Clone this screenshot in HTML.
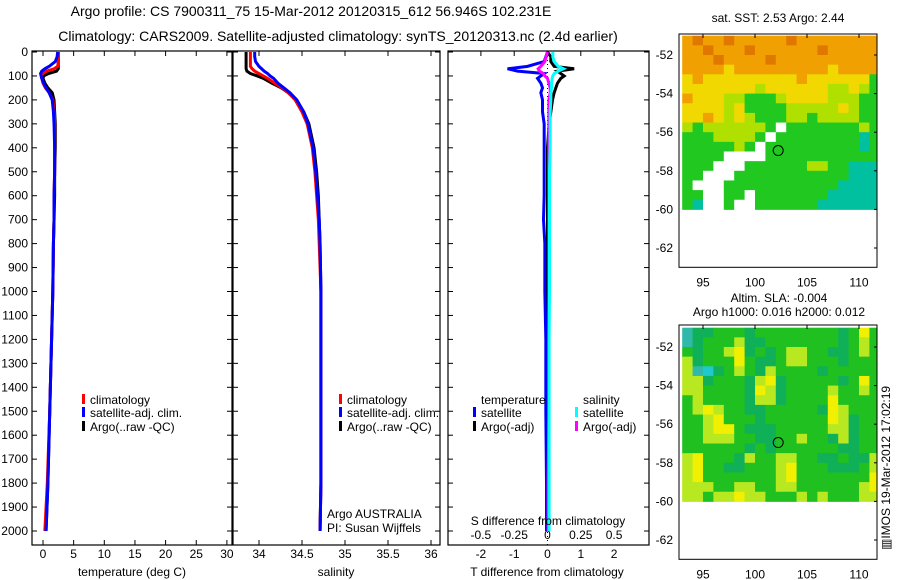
<!DOCTYPE html>
<html><head><meta charset="utf-8">
<style>
body{margin:0;background:#fff;}
svg{display:block;font-family:"Liberation Sans",Arial,sans-serif;}
text{font-size:12px;fill:#000;}
.big{font-size:14px;}
</style></head>
<body>
<svg id="fig" width="900" height="580" viewBox="0 0 900 580" xmlns="http://www.w3.org/2000/svg">
<text class="big" x="311" y="16" text-anchor="middle">Argo profile: CS 7900311_75 15-Mar-2012 20120315_612 56.946S 102.231E</text>
<text class="big" x="338" y="41" text-anchor="middle">Climatology: CARS2009. Satellite-adjusted climatology: synTS_20120313.nc (2.4d earlier)</text>
<g id="g"></g>
</svg>
<script>
// ---- data ----
const depths   = [0,20,40,60,70,80,90,100,110,130,150,170,200,250,300,400,500,600,700,800,1000,1200,1500,1800,2000];
const tempClim = [2.5,2.5,2.5,2.4,1.8,0.6,0.0,-0.3,-0.2,0.0,0.4,1.0,1.6,1.8,1.9,1.9,1.9,1.8,1.8,1.7,1.6,1.4,1.1,0.7,0.3];
const tempSat  = [2.4,2.3,2.0,1.0,0.3,-0.2,-0.4,-0.3,-0.2,0.1,0.5,1.0,1.5,1.7,1.8,1.9,1.9,1.8,1.8,1.7,1.6,1.4,1.1,0.8,0.5];
const tempArgo = [2.5,2.5,2.5,2.5,2.5,2.2,0.9,0.1,0.0,0.3,0.8,1.5,1.8,1.9,2.0,2.0,1.9,1.9,1.8,1.7,1.6,1.4,1.1,0.8,0.5];
const salClim  = [33.9,33.9,33.9,33.9,33.92,33.95,34.0,34.05,34.1,34.18,34.27,34.34,34.42,34.5,34.56,34.62,34.65,34.67,34.69,34.7,34.72,34.72,34.72,34.72,34.71];
const salSat   = [33.95,33.95,33.96,34.0,34.03,34.06,34.1,34.13,34.17,34.22,34.29,34.36,34.44,34.52,34.57,34.63,34.66,34.68,34.7,34.71,34.72,34.72,34.72,34.72,34.71];
const salArgo  = [33.85,33.85,33.85,33.85,33.85,33.86,33.9,33.98,34.05,34.15,34.26,34.34,34.43,34.52,34.58,34.64,34.67,34.69,34.7,34.71,34.72,34.72,34.72,34.72,34.71];
const dT_sat   = [0.0,-0.05,-0.1,-0.6,-1.2,-0.9,-0.1,-0.2,-0.3,-0.2,-0.15,-0.2,-0.15,-0.15,-0.1,-0.1,-0.1,-0.1,-0.12,-0.08,-0.08,-0.05,-0.05,-0.03,-0.03];
const dT_argo  = [0.0,0.1,0.1,0.2,0.8,0.3,0.4,0.5,0.4,0.3,0.25,0.2,0.15,0.1,0.05,0.0,0.0,0.0,0.0,0.0,0.0,0.0,0.0,0.0,0.0];
const dS_sat   = [0.04,0.04,0.05,0.08,0.12,0.08,0.05,0.04,0.035,0.03,0.03,0.025,0.025,0.02,0.02,0.02,0.015,0.015,0.015,0.015,0.015,0.012,0.012,0.012,0.012];
const dS_argo  = [0.0,-0.01,-0.02,-0.05,-0.07,-0.06,-0.03,-0.02,0.0,0.01,0.02,0.02,0.01,0.01,0.01,0.01,0.01,0.01,0.01,0.01,0.01,0.01,0.01,0.005,0.005];
const depthTicks = [0,100,200,300,400,500,600,700,800,900,1000,1100,1200,1300,1400,1500,1600,1700,1800,1900,2000];
const tempTicks = [0,5,10,15,20,25,30];
const salTicks = ["34","34.5","35","35.5","36"];
const dTTicks = [-2,-1,0,1,2];
const dSTicks = ["-0.5","-0.25","0","0.25","0.5"];
const latTicks = [-52,-54,-56,-58,-60,-62];
const lonTicks = [95,100,105,110];
const sstRows = [
"oOooOoooooOoooooooo","ooOoooOooooooOooooo","oooOooooOoooooooooo","ooooyoooooooooyoooo",
"yoyyyyyyyyyoyyyyyyg","yyyyyyyLyyyyyyLLyLg","oyyyLLgggLyyyyLLLgg","yyyyLyggggLLLLLyLgg",
"yyoyLyLgggLLgLLLLgg","LgLLLLLLgwgggggggLg","gggLLLLgwggggggggtg","gggggLgwgggggggggtg",
"ggggwwwwggggggggggg","gggwwwggggggLLggttt","ggwwwgggggggggggttt","gwwwgggggggggggtttt",
"ggwwggwgggggggttttt","gtwwgwwggggggtttttt"];
const slaRows = [
"tddgggdggggggggdgYg","tdgggyddgggggggdgyg","gdggyYdgdgyyggddgyg","ydgggYgddgyygggdggg",
"ytcdgygdyggggdggggg","yydgggdyYdgggggdgYg","yyggggdYydggggyggyg","gyggggdyydggggYgggg",
"gyYyggddgggggdYyggg","ggyYgggdggggggYydgg","ggyYYgdddgggggyydgg","ggyyyggddggyggdydgg",
"ggggggdgdggggggddgg","yYgggdyggyyggddgddy","yYggddgggyYgggdddgy","yYgggggggyYgggggggY",
"yyyggyyggyyggggggyY","yygyyYyygggygygggyy"];
const sstColors = {O:"#e07800",o:"#f0a000",y:"#f0d800",L:"#b0e000",g:"#20c820",t:"#00c0a0",w:"#ffffff"};
const slaColors = {g:"#20c020",d:"#10b058",Y:"#f0f000",y:"#b8e820",t:"#30b8a8",c:"#20c8d0"};

const NS="http://www.w3.org/2000/svg";
const G=document.getElementById('g');
function el(tag,attrs,parent){const e=document.createElementNS(NS,tag);for(const k in attrs)e.setAttribute(k,attrs[k]);(parent||G).appendChild(e);return e;}
function txt(x,y,s,anchor,parent){const t=el('text',{x:x,y:y,'text-anchor':anchor||'start'},parent);t.textContent=s;return t;}

const yD = d => 52 + d*0.2395;
const xT = v => 43 + v*6.13;
const xS = v => 259 + (v-34)*86;
const xDT = v => 547.5 + v*33.3;
const xDS = v => 547.5 + v*133.2;

function stepLine(xs,xf,color,name){
  let pts=[];
  for(let i=0;i<depths.length;i++){pts.push(xf(xs[i])+','+yD(depths[i]));}
  const p=el('polyline',{points:pts.join(' '),fill:'none',stroke:color,'stroke-width':3,'stroke-linejoin':'miter'});
  
  
}
function frame(x0,x1,name){
  const r=el('rect',{x:x0,y:51,width:x1-x0,height:494,fill:'none',stroke:'#000','stroke-width':1.2});
  
  
  depthTicks.forEach(d=>{el('line',{x1:x0,x2:x0+5,y1:yD(d),y2:yD(d),stroke:'#000'});el('line',{x1:x1-5,x2:x1,y1:yD(d),y2:yD(d),stroke:'#000'});});
}
depthTicks.forEach(d=>{const t=txt(28,yD(d)+4,String(d),'end');

});

// Panel 1
frame(32,232,'temperature-panel');
tempTicks.forEach(v=>{el('line',{x1:xT(v),x2:xT(v),y1:51,y2:56,stroke:'#000'});el('line',{x1:xT(v),x2:xT(v),y1:540,y2:545,stroke:'#000'});
const t=txt(xT(v),558,String(v),'middle');

});
stepLine(tempArgo,xT,'#000','temp-argo-line');
stepLine(tempClim,xT,'#f00','temp-clim-line');
stepLine(tempSat,xT,'#00f','temp-sat-line');
let t1=txt(132,576,'temperature (deg C)','middle');



// Panel 2
frame(233,440,'salinity-panel');
salTicks.forEach(s=>{const v=parseFloat(s);el('line',{x1:xS(v),x2:xS(v),y1:51,y2:56,stroke:'#000'});el('line',{x1:xS(v),x2:xS(v),y1:540,y2:545,stroke:'#000'});
const t=txt(xS(v),558,s,'middle');

});
stepLine(salArgo,xS,'#000','sal-argo-line');
stepLine(salClim,xS,'#f00','sal-clim-line');
stepLine(salSat,xS,'#00f','sal-sat-line');
let t2=txt(336,576,'salinity','middle');


txt(327,518,'Argo AUSTRALIA');
txt(327,532,'PI: Susan Wijffels');

function legend(x,y,color,label,name){
  const g=el('g',{});
  
  
  el('rect',{x:x,y:y-10,width:3,height:10,fill:color},g);
  txt(x+8,y,label,'start',g);
}
legend(82,404,'#f00','climatology','legend-temp-climatology');
legend(82,417,'#00f','satellite-adj. clim.','legend-temp-satellite');
legend(82,431,'#000','Argo(..raw -QC)','legend-temp-argo');
legend(339,404,'#f00','climatology','legend-sal-climatology');
legend(339,417,'#00f','satellite-adj. clim.','legend-sal-satellite');
legend(339,431,'#000','Argo(..raw -QC)','legend-sal-argo');

// Panel 3
frame(448,649,'difference-panel');
dTTicks.forEach(v=>{el('line',{x1:xDT(v),x2:xDT(v),y1:51,y2:56,stroke:'#000'});
const t=txt(xDT(v),558,String(v),'middle');

});
dSTicks.forEach(s=>{const t=txt(xDS(parseFloat(s)),539,s,'middle');

});
el('line',{x1:xDT(0),x2:xDT(0),y1:52,y2:545,stroke:'#000','stroke-dasharray':'1,3'});
stepLine(dT_argo,xDT,'#000','dT-argo-line');
stepLine(dT_sat,xDT,'#00f','dT-sat-line');
stepLine(dS_argo,xDS,'#f0f','dS-argo-line');
stepLine(dS_sat,xDS,'#0ff','dS-sat-line');
txt(481,404,'temperature');
txt(583,404,'salinity');
legend(473,417,'#00f','satellite','legend-dT-satellite');
legend(473,431,'#000','Argo(-adj)','legend-dT-argo');
legend(575,417,'#0ff','satellite','legend-dS-satellite');
legend(575,431,'#f0f','Argo(-adj)','legend-dS-argo');
txt(548,525,'S difference from climatology','middle');
let t3=txt(547,576,'T difference from climatology','middle');



// Maps
function map(top,latY0,rows,colors,name){
  const yL = la => latY0 + (-52-la)*19.3;
  const xL = lo => 703 + (lo-95)*10.4;
  const g=el('g',{});
  
  
  const clip=el('clipPath',{id:'c'+name},g);
  el('rect',{x:679,y:top,width:198,height:yL(-63)-top},clip);
  const cg=el('g',{'clip-path':'url(#c'+name+')'},g);
  rows.forEach((row,r)=>{
    for(let c=0;c<row.length;c++){
      const lat=-51-r*0.5, lon=93+c;
      const x=xL(lon), y=yL(lat);
      const cell=el('rect',{x:x,y:y,width:10.9,height:10.1,fill:colors[row[c]]},cg);
      
      
    }
  });
  el('rect',{x:679,y:top,width:198,height:yL(-63)-top,fill:'none',stroke:'#000'},g);
  el('circle',{cx:xL(102.23),cy:yL(-56.95),r:5,fill:'none',stroke:'#000'},g);
  latTicks.forEach(la=>{el('line',{x1:874,x2:877,y1:yL(la),y2:yL(la),stroke:'#000'},g);
    const t=txt(673,yL(la)+4,String(la),'end',g);
    
    });
  lonTicks.forEach(lo=>{el('line',{x1:xL(lo),x2:xL(lo),y1:top,y2:top+4,stroke:'#000'},g);
    const t=txt(xL(lo),yL(-63)+19,String(lo),'middle',g);
    
    });
}
map(34,55,sstRows,sstColors,'sst-map');
map(325,347,slaRows,slaColors,'sla-map');
txt(778,22,'sat. SST: 2.53 Argo: 2.44','middle');
txt(779,302,'Altim. SLA: -0.004','middle');
txt(779,316,'Argo h1000: 0.016 h2000: 0.012','middle');
const im=txt(0,0,'\u25A5IMOS 19-Mar-2012 17:02:19','start');
im.setAttribute('transform','translate(890,550) rotate(-90)');


</script>
</body></html>
